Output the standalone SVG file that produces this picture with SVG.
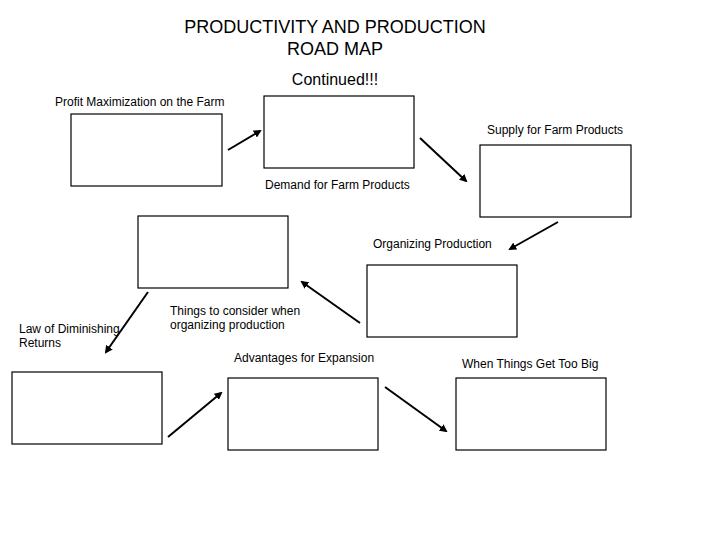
<svg xmlns="http://www.w3.org/2000/svg" width="720" height="540" viewBox="0 0 720 540">
<style>
.b{fill:#fff;stroke:#000;stroke-width:1.2}
.t{font-family:"Liberation Sans",Arial,sans-serif;font-size:12px;fill:#000}
.h{font-family:"Liberation Sans",Arial,sans-serif;font-size:18px;fill:#000;text-anchor:middle}
.c{stroke:#000;stroke-width:2;fill:none;marker-end:url(#a)}
</style>
<defs><marker id="a" markerWidth="8" markerHeight="8" refX="6" refY="4" orient="auto" markerUnits="userSpaceOnUse"><path d="M0,0 L8,4 L0,8 Z" fill="#000"/></marker></defs>
<rect width="720" height="540" fill="#fff"/>
<g id="title">
<text class="h" x="335" y="33">PRODUCTIVITY AND PRODUCTION</text>
<text class="h" x="335" y="55">ROAD MAP</text>
<text class="h" x="335" y="85" style="font-size:16px">Continued!!!</text>
</g>
<g id="n1"><rect class="b" x="71" y="114" width="151" height="72"/><text class="t" x="55" y="106">Profit Maximization on the Farm</text></g>
<g id="n2"><rect class="b" x="264" y="96" width="150" height="72"/></g>
<g id="n3"><rect class="b" x="480" y="145" width="151" height="72"/><text class="t" x="487" y="134">Supply for Farm Products</text></g>
<g id="n4"><rect class="b" x="138" y="216" width="150" height="72"/><text class="t" x="265" y="189">Demand for Farm Products</text></g>
<g id="n5"><rect class="b" x="367" y="265" width="150" height="72"/><text class="t" x="373" y="248">Organizing Production</text></g>
<g id="n6"><rect class="b" x="12" y="372" width="150" height="72"/><text class="t" x="19" y="333">Law of Diminishing</text><text class="t" x="19" y="347">Returns</text></g>
<g id="n7"><rect class="b" x="228" y="378" width="150" height="72"/><text class="t" x="170" y="315">Things to consider when</text><text class="t" x="170" y="329">organizing production</text><text class="t" x="234" y="362">Advantages for Expansion</text></g>
<g id="n8"><rect class="b" x="456" y="378" width="150" height="72"/><text class="t" x="462" y="368">When Things Get Too Big</text></g>
<g id="connectors">
<line class="c" x1="228" y1="150" x2="260" y2="131"/>
<line class="c" x1="420" y1="138" x2="466" y2="181"/>
<line class="c" x1="558" y1="222" x2="510" y2="249"/>
<line class="c" x1="360" y1="323" x2="302" y2="282"/>
<line class="c" x1="148" y1="292" x2="106" y2="352"/>
<line class="c" x1="168" y1="437" x2="221" y2="393"/>
<line class="c" x1="385" y1="387" x2="446" y2="431"/>
</g>
</svg>
